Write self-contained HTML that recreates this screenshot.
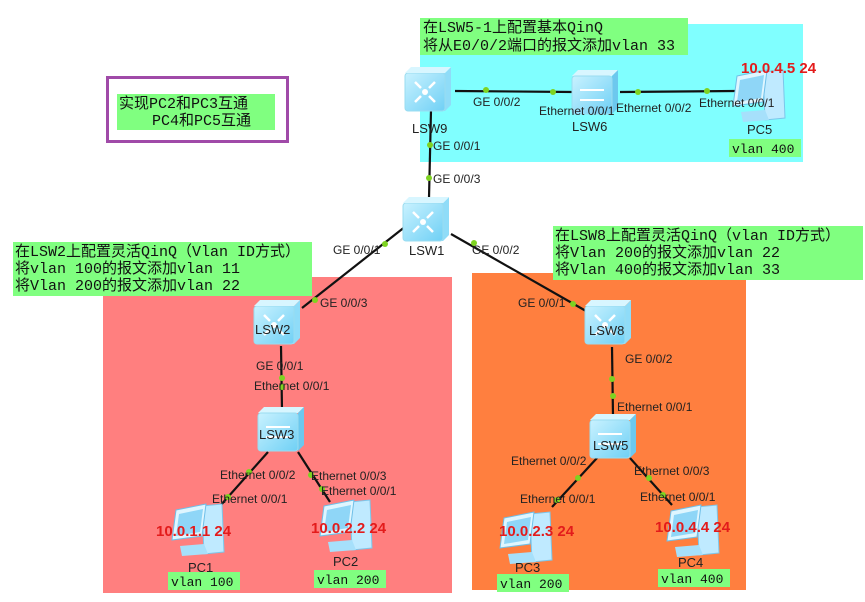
<!DOCTYPE html>
<html><head><meta charset="utf-8"><style>
body{margin:0;background:#fff;}
svg text{font-family:"Liberation Sans",sans-serif;}
.cn{font-family:"Liberation Mono","Noto Sans CJK SC",monospace;font-size:15px;fill:#111;}
.vl{font-family:"Liberation Mono",monospace;font-size:13px;fill:#111;}
.lb{font-size:12px;fill:#222;}
.nm{font-size:13px;fill:#222;}
.ip{font-size:15px;fill:#e31b1b;font-weight:bold;}
</style></head><body>
<svg width="865" height="597" viewBox="0 0 865 597" xmlns="http://www.w3.org/2000/svg">
<defs>
<linearGradient id="sw" x1="0" y1="0" x2="1" y2="1"><stop offset="0" stop-color="#c9f2ff"/><stop offset="1" stop-color="#6fd0f5"/></linearGradient>
<g id="sw3">
<path d="M4 6 L40 6 L46 0 L46 38 L40 44 L4 44 Z" fill="#8fdcf8"/>
<rect x="0" y="6" width="40" height="38" rx="3" fill="url(#sw)" stroke="#9adcf0"/>
<path d="M0 6 L6 0 L46 0 L40 6 Z" fill="#d8f6ff"/>
<circle cx="20" cy="25" r="3" fill="#fff"/>
<path d="M10 15 L16 21 M30 15 L24 21 M10 35 L16 29 M30 35 L24 29" stroke="#fff" stroke-width="2.5"/>
</g>
<g id="sw2">
<path d="M0 6 L6 0 L46 0 L40 6 Z" fill="#d8f6ff"/>
<path d="M40 6 L46 0 L46 38 L40 44 Z" fill="#6cc8ee"/>
<rect x="0" y="6" width="40" height="38" rx="3" fill="url(#sw)" stroke="#9adcf0"/>
<path d="M8 20 L32 20 M8 30 L32 30" stroke="#fff" stroke-width="2"/>
</g>
<g id="pc">
<path d="M30 4 L50 2 L52 50 L32 52 Z" fill="#bfeaff" stroke="#7cc6ea"/>
<path d="M4 8 L34 2 L30 34 L0 38 Z" fill="#dff6ff" stroke="#6fbfe8"/>
<path d="M7 12 L31 7 L28 30 L4 34 Z" fill="#8fd6f7"/>
<path d="M8 44 L32 42 L36 52 L10 54 Z" fill="#a6e0fb"/>
</g>
</defs>
<rect x="420" y="24" width="383" height="138" fill="#80ffff"/>
<rect x="103" y="277" width="349" height="316" fill="#ff7f7f"/>
<rect x="472" y="273" width="274" height="317" fill="#ff7f3f"/>
<rect x="107.5" y="77.5" width="180" height="64" fill="#fff" stroke="#a04aa8" stroke-width="3"/>
<rect x="117" y="94" width="158" height="36" fill="#80ff80"/>
<text class="cn" x="119" y="108">实现PC2和PC3互通</text>
<text class="cn" x="152" y="125">PC4和PC5互通</text>
<rect x="420" y="18" width="268" height="37" fill="#80ff80"/>
<text class="cn" x="423" y="32">在LSW5-1上配置基本QinQ</text>
<text class="cn" x="423" y="50">将从E0/0/2端口的报文添加vlan 33</text>
<rect x="13" y="242" width="299" height="54" fill="#80ff80"/>
<text class="cn" x="15" y="256">在LSW2上配置灵活QinQ（Vlan ID方式）</text>
<text class="cn" x="15" y="273">将vlan 100的报文添加vlan 11</text>
<text class="cn" x="15" y="290">将Vlan 200的报文添加vlan 22</text>
<rect x="553" y="226" width="310" height="54" fill="#80ff80"/>
<text class="cn" x="555" y="240">在LSW8上配置灵活QinQ（vlan ID方式）</text>
<text class="cn" x="555" y="257">将Vlan 200的报文添加vlan 22</text>
<text class="cn" x="555" y="274">将Vlan 400的报文添加vlan 33</text>
<g stroke="#111" stroke-width="2.2" fill="none">
<line x1="431" y1="110" x2="429" y2="198"/>
<line x1="455" y1="91" x2="574" y2="92"/>
<line x1="620" y1="92" x2="735" y2="91"/>
<line x1="406" y1="226" x2="302" y2="308"/>
<line x1="451" y1="234" x2="586" y2="311"/>
<line x1="281" y1="346" x2="282" y2="410"/>
<line x1="268" y1="452" x2="220" y2="506"/>
<line x1="298" y1="452" x2="330" y2="502"/>
<line x1="612" y1="347" x2="613" y2="416"/>
<line x1="597" y1="458" x2="552" y2="507"/>
<line x1="630" y1="458" x2="672" y2="505"/>
</g>
<g fill="#7ed321">
<circle cx="486" cy="90" r="3"/><circle cx="553" cy="92" r="3"/>
<circle cx="638" cy="92" r="3"/><circle cx="707" cy="91" r="3"/>
<circle cx="430" cy="145" r="3"/><circle cx="429" cy="178" r="3"/>
<circle cx="385" cy="244" r="3"/><circle cx="315" cy="300" r="3"/>
<circle cx="474" cy="243" r="3"/><circle cx="573" cy="304" r="3"/>
<circle cx="282" cy="378" r="3"/><circle cx="282" cy="387" r="3"/>
<circle cx="249" cy="472" r="3"/><circle cx="228" cy="497" r="3"/>
<circle cx="311" cy="475" r="3"/><circle cx="322" cy="489" r="3"/>
<circle cx="612" cy="379" r="3"/><circle cx="613" cy="396" r="3"/>
<circle cx="578" cy="478" r="3"/><circle cx="557" cy="500" r="3"/>
<circle cx="649" cy="478" r="3"/><circle cx="663" cy="495" r="3"/>
</g>
<use href="#sw3" x="405" y="67"/>
<use href="#sw3" x="403" y="197"/>
<use href="#sw2" x="572" y="70"/>
<use href="#pc" x="733" y="68"/>
<use href="#sw3" x="254" y="300"/>
<use href="#sw2" x="258" y="407"/>
<use href="#pc" x="172" y="502"/>
<use href="#pc" x="320" y="498"/>
<use href="#sw3" x="585" y="300"/>
<use href="#sw2" x="590" y="414"/>
<use href="#pc" x="500" y="510"/>
<use href="#pc" x="667" y="503"/>
<text class="nm" x="412" y="133">LSW9</text>
<text class="nm" x="572" y="131">LSW6</text>
<text class="nm" x="747" y="134">PC5</text>
<text class="nm" x="409" y="255">LSW1</text>
<text class="nm" x="255" y="334">LSW2</text>
<text class="nm" x="259" y="439">LSW3</text>
<text class="nm" x="589" y="335">LSW8</text>
<text class="nm" x="593" y="450">LSW5</text>
<text class="nm" x="188" y="572">PC1</text>
<text class="nm" x="333" y="566">PC2</text>
<text class="nm" x="515" y="572">PC3</text>
<text class="nm" x="678" y="567">PC4</text>
<g class="lb">
<text x="473" y="106">GE 0/0/2</text>
<text x="539" y="115">Ethernet 0/0/1</text>
<text x="616" y="112">Ethernet 0/0/2</text>
<text x="699" y="107">Ethernet 0/0/1</text>
<text x="433" y="150">GE 0/0/1</text>
<text x="433" y="183">GE 0/0/3</text>
<text x="333" y="254">GE 0/0/1</text>
<text x="472" y="254">GE 0/0/2</text>
<text x="320" y="307">GE 0/0/3</text>
<text x="518" y="307">GE 0/0/1</text>
<text x="256" y="370">GE 0/0/1</text>
<text x="254" y="390">Ethernet 0/0/1</text>
<text x="625" y="363">GE 0/0/2</text>
<text x="617" y="411">Ethernet 0/0/1</text>
<text x="220" y="479">Ethernet 0/0/2</text>
<text x="311" y="480">Ethernet 0/0/3</text>
<text x="212" y="503">Ethernet 0/0/1</text>
<text x="321" y="495">Ethernet 0/0/1</text>
<text x="511" y="465">Ethernet 0/0/2</text>
<text x="634" y="475">Ethernet 0/0/3</text>
<text x="520" y="503">Ethernet 0/0/1</text>
<text x="640" y="501">Ethernet 0/0/1</text>
</g>
<text class="ip" x="741" y="73">10.0.4.5 24</text>
<text class="ip" x="156" y="536">10.0.1.1 24</text>
<text class="ip" x="311" y="533">10.0.2.2 24</text>
<text class="ip" x="499" y="536">10.0.2.3 24</text>
<text class="ip" x="655" y="532">10.0.4.4 24</text>
<rect x="729" y="139" width="72" height="18" fill="#80ff80"/><text class="vl" x="732" y="153">vlan 400</text>
<rect x="168" y="572" width="72" height="18" fill="#80ff80"/><text class="vl" x="171" y="586">vlan 100</text>
<rect x="314" y="570" width="72" height="18" fill="#80ff80"/><text class="vl" x="317" y="584">vlan 200</text>
<rect x="497" y="574" width="72" height="18" fill="#80ff80"/><text class="vl" x="500" y="588">vlan 200</text>
<rect x="658" y="569" width="72" height="18" fill="#80ff80"/><text class="vl" x="661" y="583">vlan 400</text>
</svg>
</body></html>
